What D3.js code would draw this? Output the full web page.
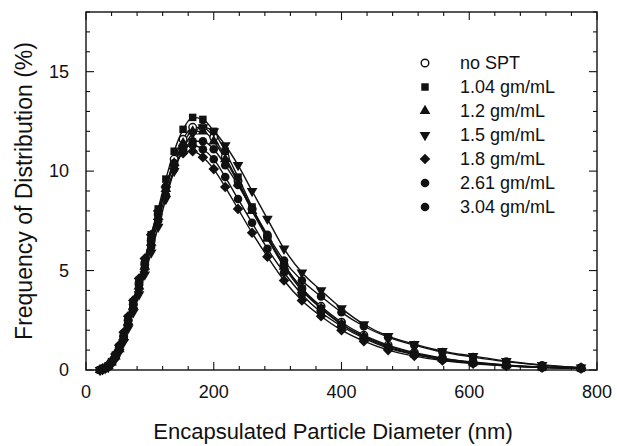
<!DOCTYPE html>
<meta charset="utf-8">
<style>
body { margin: 0; background: #fff; }
text { font-family: "Liberation Sans", Arial, sans-serif; fill: #111; }
.line { fill: none; stroke: #111; stroke-width: 1.4px; }
.frame { fill: none; stroke: #111; stroke-width: 1.4px; }
.tick-line { stroke: #111; stroke-width: 1.1px; }
</style>
<svg width="617" height="446"></svg>
<script src="https://cdn.jsdelivr.net/npm/d3@7"></script>
<script>

// diameter bins (nm)
var diam = [22, 26, 30, 35, 40, 46, 52, 59, 66, 74, 83, 92, 102, 113, 125, 138, 152, 167, 183, 200,
            218, 238, 260, 284, 310, 338, 368, 400, 435, 473, 514, 558, 606, 658, 714, 775];

// frequency (%) per sample
var noSPT = [0.0,0.05,0.1,0.2,0.4,0.7,1.1,1.7,2.5,3.3,4.3,5.3,6.5,7.8,9.2,10.6,11.6,12.2,12.2,11.7,
             10.7,9.5,8.1,6.7,5.3,4.1,3.2,2.4,1.75,1.25,0.88,0.6,0.4,0.25,0.15,0.1];
var d104  = [0.0,0.05,0.1,0.22,0.42,0.75,1.15,1.8,2.6,3.4,4.5,5.5,6.8,8.1,9.6,11.0,12.1,12.7,12.6,12.0,
             11.0,9.7,8.2,6.7,5.3,4.1,3.1,2.3,1.65,1.15,0.8,0.55,0.36,0.22,0.13,0.08];
var d12   = [0.0,0.04,0.1,0.2,0.38,0.68,1.05,1.65,2.4,3.2,4.2,5.2,6.4,7.7,9.1,10.4,11.4,12.0,12.0,11.5,
             10.6,9.4,8.0,6.6,5.2,4.0,3.1,2.3,1.7,1.2,0.85,0.58,0.38,0.24,0.14,0.09];
var d15   = [0.0,0.03,0.08,0.15,0.3,0.55,0.9,1.4,2.1,2.9,3.8,4.8,5.9,7.2,8.6,10.0,11.1,11.9,12.2,12.0,
             11.3,10.3,9.0,7.6,6.1,4.9,4.0,3.1,2.3,1.7,1.3,0.95,0.7,0.45,0.25,0.12];
var d18   = [0.0,0.06,0.12,0.25,0.45,0.8,1.25,1.9,2.7,3.5,4.6,5.6,6.8,8.0,9.2,10.3,10.9,11.0,10.7,10.1,
             9.2,8.1,6.9,5.7,4.5,3.5,2.7,2.0,1.45,1.0,0.7,0.48,0.32,0.2,0.12,0.08];
var d261  = [0.0,0.04,0.09,0.18,0.35,0.62,1.0,1.55,2.3,3.1,4.1,5.1,6.2,7.5,8.8,10.1,11.0,11.5,11.5,11.1,
             10.3,9.3,8.1,6.8,5.5,4.5,3.7,2.9,2.2,1.65,1.25,0.9,0.65,0.42,0.24,0.12];
var d304  = [0.0,0.05,0.1,0.2,0.4,0.7,1.1,1.7,2.5,3.3,4.4,5.4,6.6,7.9,9.2,10.4,11.1,11.3,11.1,10.6,
             9.7,8.6,7.4,6.1,4.9,3.8,2.9,2.2,1.6,1.1,0.78,0.53,0.35,0.22,0.13,0.08];

var labels = ["no SPT", "1.04 gm/mL", "1.2 gm/mL", "1.5 gm/mL", "1.8 gm/mL", "2.61 gm/mL", "3.04 gm/mL"];
var values = [noSPT, d104, d12, d15, d18, d261, d304];
var shapes = ["circle-open", "square", "tri-up", "tri-down", "diamond", "circle", "circle"];

var xTicks = [0, 200, 400, 600, 800];
var yTicks = [0, 5, 10, 15];

var svg = d3.select("svg"),
    margin = {top: 12, right: 20, bottom: 76, left: 86},
    w = svg.attr("width") - margin.left - margin.right,
    h = svg.attr("height") - margin.top - margin.bottom;

var xScale = d3.scaleLinear().domain([0, 800]).range([0, w]),
    yScale = d3.scaleLinear().domain([0, 18]).range([h, 0]);

var g = svg.append("g").attr("transform", "translate(" + margin.left + "," + margin.top + ")");

// inward ticks on all four sides
var xMinor = d3.range(0, 801, 40), yMinor = d3.range(0, 19, 1);
xMinor.forEach(function(v) {
  var big = xTicks.indexOf(v) >= 0, len = big ? 8 : 4;
  g.append("line").attr("class", "tick-line").attr("x1", xScale(v)).attr("x2", xScale(v)).attr("y1", h).attr("y2", h - len);
  g.append("line").attr("class", "tick-line").attr("x1", xScale(v)).attr("x2", xScale(v)).attr("y1", 0).attr("y2", len);
});
yMinor.forEach(function(v) {
  var big = yTicks.indexOf(v) >= 0, len = big ? 8 : 4;
  g.append("line").attr("class", "tick-line").attr("y1", yScale(v)).attr("y2", yScale(v)).attr("x1", 0).attr("x2", len);
  g.append("line").attr("class", "tick-line").attr("y1", yScale(v)).attr("y2", yScale(v)).attr("x1", w).attr("x2", w - len);
});

g.append("rect").attr("class", "frame").attr("width", w).attr("height", h);

// tick labels
g.selectAll(".xlab").data(xTicks).enter().append("text")
    .attr("x", function(d) { return xScale(d); })
    .attr("y", h + 28)
    .attr("text-anchor", "middle")
    .style("font-size", "18px")
    .text(function(d) { return d; });

g.selectAll(".ylab").data(yTicks).enter().append("text")
    .attr("x", -17)
    .attr("y", function(d) { return yScale(d); })
    .attr("dy", "0.35em")
    .attr("text-anchor", "end")
    .style("font-size", "18px")
    .text(function(d) { return d; });

// axis titles
svg.append("text")
    .attr("x", 333)
    .attr("y", 439)
    .attr("text-anchor", "middle")
    .style("font-size", "22px")
    .text("Encapsulated Particle Diameter (nm)");

svg.append("text")
    .attr("transform", "translate(32," + (margin.top + h / 2) + ") rotate(-90)")
    .attr("text-anchor", "middle")
    .style("font-size", "23px")
    .text("Frequency of Distribution (%)");

var line = d3.line()
    .curve(d3.curveMonotoneX)
    .x(function(d) { return xScale(d[0]); })
    .y(function(d) { return yScale(d[1]); });

function drawMark(sel, shape) {
  if (shape == "circle-open") {
    sel.append("circle").attr("r", 3.8).attr("fill", "#fff").attr("stroke", "#111").attr("stroke-width", 1.4);
  } else if (shape == "circle") {
    sel.append("circle").attr("r", 4.3).attr("fill", "#111");
  } else if (shape == "square") {
    sel.append("path").attr("d", d3.symbol(d3.symbolSquare, 56)).attr("fill", "#111");
  } else if (shape == "tri-up") {
    sel.append("path").attr("d", d3.symbol(d3.symbolTriangle, 50)).attr("fill", "#111");
  } else if (shape == "tri-down") {
    sel.append("path").attr("d", d3.symbol(d3.symbolTriangle, 50)).attr("transform", "rotate(180)").attr("fill", "#111");
  } else if (shape == "diamond") {
    sel.append("path").attr("d", d3.symbol(d3.symbolSquare, 56)).attr("transform", "rotate(45)").attr("fill", "#111");
  }
}

var series = values.map(function(v, i) {
  return { label: labels[i], shape: shapes[i], pts: diam.map(function(x, j) { return [x, v[j]]; }) };
});

series.forEach(function(s) {
  g.append("path").attr("class", "line").attr("d", line(s.pts));
});

series.forEach(function(s) {
  s.pts.forEach(function(p) {
    var m = g.append("g").attr("transform", "translate(" + xScale(p[0]) + "," + yScale(p[1]) + ")");
    drawMark(m, s.shape);
  });
});

// legend
var legend = svg.append("g").attr("transform", "translate(425,63)");
series.forEach(function(s, i) {
  var row = legend.append("g").attr("transform", "translate(0," + (i * 24) + ")");
  drawMark(row.append("g"), s.shape);
  row.append("text")
      .attr("x", 35)
      .attr("dy", "0.35em")
      .style("font-size", "18px")
      .text(s.label);
});

</script>
